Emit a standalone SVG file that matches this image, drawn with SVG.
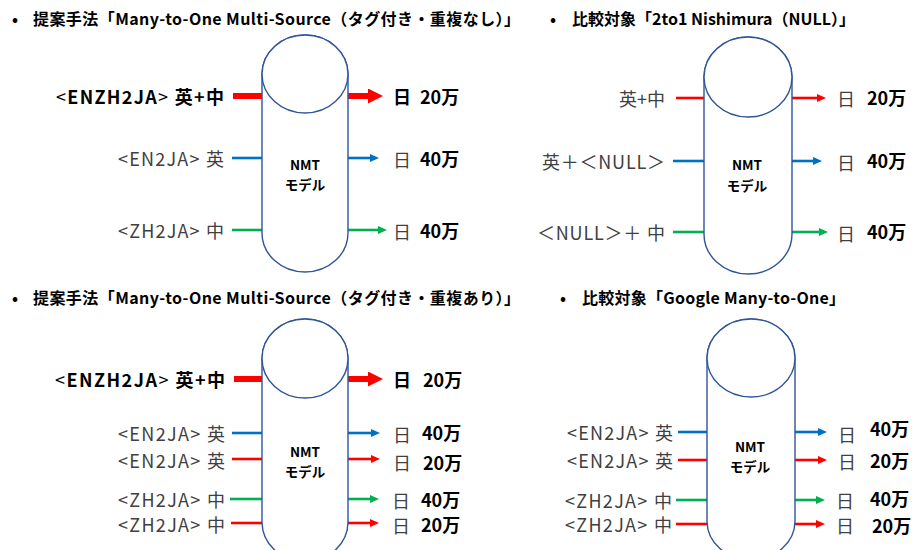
<svg xmlns="http://www.w3.org/2000/svg" width="912" height="550" viewBox="0 0 912 550">
<style>
text{font-family:"Noto Sans CJK JP","Noto Sans",sans-serif;dominant-baseline:central}
.t{font-size:16px;font-weight:bold;fill:#000}
.l{font-size:18px;fill:#404040;text-anchor:end}
.lb{font-size:18px;font-weight:bold;fill:#000;text-anchor:end}
.o{font-size:18px;fill:#404040}
.ob{font-size:18px;font-weight:bold;fill:#000}
.m{font-size:13.5px;font-weight:bold;fill:#000;text-anchor:middle}
.cyl{fill:#fff;stroke:#2F5597;stroke-width:1.4}
.r{stroke:#FF0000;stroke-width:2.6;fill:none}
.b{stroke:#0070C0;stroke-width:2.6;fill:none}
.g{stroke:#00B050;stroke-width:2.6;fill:none}
.R{stroke:#FF0000;stroke-width:6;fill:none}
</style>
<defs>
<marker id="ar" markerUnits="userSpaceOnUse" markerWidth="10" markerHeight="9" refX="1" refY="4" orient="auto"><path d="M0,0 L9,4 L0,8 Z" fill="#FF0000"/></marker>
<marker id="ab" markerUnits="userSpaceOnUse" markerWidth="10" markerHeight="9" refX="1" refY="4" orient="auto"><path d="M0,0 L9,4 L0,8 Z" fill="#0070C0"/></marker>
<marker id="ag" markerUnits="userSpaceOnUse" markerWidth="10" markerHeight="9" refX="1" refY="4" orient="auto"><path d="M0,0 L9,4 L0,8 Z" fill="#00B050"/></marker>
<marker id="aR" markerUnits="userSpaceOnUse" markerWidth="16" markerHeight="16" refX="1" refY="7.5" orient="auto"><path d="M0,0 L15,7.5 L0,15 Z" fill="#FF0000"/></marker>
</defs>

<g id="titles">
<text class="t" x="12" y="18">•</text>
<text class="t" x="33" y="18" textLength="487">提案手法「Many-to-One Multi-Source（タグ付き・重複なし）」</text>
<text class="t" x="550" y="18">•</text>
<text class="t" x="572" y="18" textLength="283">比較対象「2to1 Nishimura（NULL）」</text>
<text class="t" x="12" y="297">•</text>
<text class="t" x="33" y="297" textLength="487">提案手法「Many-to-One Multi-Source（タグ付き・重複あり）」</text>
<text class="t" x="560" y="297">•</text>
<text class="t" x="582" y="297" textLength="263">比較対象「Google Many-to-One」</text>
</g>

<g id="connectors">
<line class="R" x1="233" y1="96" x2="262" y2="96"/>
<line class="R" x1="348" y1="96" x2="369" y2="96" marker-end="url(#aR)"/>
<line class="b" x1="232" y1="158" x2="262" y2="158"/>
<line class="b" x1="348" y1="158" x2="371" y2="158" marker-end="url(#ab)"/>
<line class="g" x1="232" y1="230" x2="262" y2="230"/>
<line class="g" x1="348" y1="230" x2="379" y2="230" marker-end="url(#ag)"/>
<line class="r" x1="676" y1="98" x2="704" y2="98"/>
<line class="r" x1="792" y1="98" x2="818" y2="98" marker-end="url(#ar)"/>
<line class="b" x1="673" y1="161" x2="704" y2="161"/>
<line class="b" x1="792" y1="161" x2="814" y2="161" marker-end="url(#ab)"/>
<line class="g" x1="673" y1="232" x2="704" y2="232"/>
<line class="g" x1="792" y1="232" x2="820" y2="232" marker-end="url(#ag)"/>
<line class="R" x1="234" y1="379" x2="262" y2="379"/>
<line class="R" x1="348" y1="379" x2="369" y2="379" marker-end="url(#aR)"/>
<line class="b" x1="232" y1="433" x2="262" y2="433"/>
<line class="b" x1="348" y1="433" x2="372" y2="433" marker-end="url(#ab)"/>
<line class="r" x1="232" y1="459" x2="262" y2="459"/>
<line class="r" x1="348" y1="459" x2="372" y2="459" marker-end="url(#ar)"/>
<line class="g" x1="230" y1="499" x2="262" y2="499"/>
<line class="g" x1="348" y1="499" x2="371" y2="499" marker-end="url(#ag)"/>
<line class="r" x1="231" y1="523" x2="262" y2="523"/>
<line class="r" x1="348" y1="523" x2="371" y2="523" marker-end="url(#ar)"/>
<line class="b" x1="678" y1="432" x2="707" y2="432"/>
<line class="b" x1="795" y1="432" x2="819" y2="432" marker-end="url(#ab)"/>
<line class="r" x1="678" y1="460" x2="707" y2="460"/>
<line class="r" x1="795" y1="460" x2="819" y2="460" marker-end="url(#ar)"/>
<line class="g" x1="676" y1="500" x2="707" y2="500"/>
<line class="g" x1="795" y1="500" x2="817" y2="500" marker-end="url(#ag)"/>
<line class="r" x1="676" y1="524" x2="707" y2="524"/>
<line class="r" x1="795" y1="524" x2="817" y2="524" marker-end="url(#ar)"/>
</g>

<g id="nmtA">
<path class="cyl" d="M262,74 V233 A43,39 0 0 0 348,233 V74 A43,39 0 0 0 262,74 Z"/>
<ellipse class="cyl" cx="305" cy="74" rx="43" ry="39"/>
<text class="m" x="305" y="164">NMT</text>
<text class="m" x="305" y="184">モデル</text>
</g>
<g id="nmtB">
<path class="cyl" d="M704,77 V234 A44,40 0 0 0 792,234 V77 A44,40 0 0 0 704,77 Z"/>
<ellipse class="cyl" cx="748" cy="77" rx="44" ry="40"/>
<text class="m" x="747" y="164">NMT</text>
<text class="m" x="747" y="185">モデル</text>
</g>
<g id="nmtC">
<path class="cyl" d="M262,358.5 V522 A43,39.5 0 0 0 348,522 V358.5 A43,39.5 0 0 0 262,358.5 Z"/>
<ellipse class="cyl" cx="305" cy="358.5" rx="43" ry="39.5"/>
<text class="m" x="305" y="451">NMT</text>
<text class="m" x="305" y="471">モデル</text>
</g>
<g id="nmtD">
<path class="cyl" d="M707,358 V521 A44,39 0 0 0 795,521 V358 A44,39 0 0 0 707,358 Z"/>
<ellipse class="cyl" cx="751" cy="358" rx="44" ry="39"/>
<text class="m" x="750" y="446">NMT</text>
<text class="m" x="750" y="466">モデル</text>
</g>

<g id="inA1"><text class="lb" x="224" y="96" textLength="168"><tspan font-weight="normal">&lt;</tspan>ENZH2JA<tspan font-weight="normal">&gt;</tspan> 英+中</text></g>
<g id="inA2"><text class="l" x="224" y="158" textLength="106">&lt;EN2JA&gt; 英</text></g>
<g id="inA3"><text class="l" x="224" y="230" textLength="106">&lt;ZH2JA&gt; 中</text></g>
<g id="outA1"><text class="ob" x="393" y="96">日</text><text class="ob" x="420" y="96">20万</text></g>
<g id="outA2"><text class="o" x="393" y="159">日</text><text class="ob" x="420" y="158">40万</text></g>
<g id="outA3"><text class="o" x="393" y="231">日</text><text class="ob" x="420" y="230">40万</text></g>

<g id="inB1"><text class="l" x="665" y="98">英+中</text></g>
<g id="inB2"><text class="l" x="665" y="161" textLength="123">英＋＜NULL＞</text></g>
<g id="inB3"><text class="l" x="665" y="232" textLength="128">＜NULL＞＋ 中</text></g>
<g id="outB1"><text class="o" x="837" y="98">日</text><text class="ob" x="867" y="97">20万</text></g>
<g id="outB2"><text class="o" x="837" y="162">日</text><text class="ob" x="867" y="160">40万</text></g>
<g id="outB3"><text class="o" x="837" y="233">日</text><text class="ob" x="867" y="231">40万</text></g>

<g id="inC1"><text class="lb" x="225" y="379" textLength="170"><tspan font-weight="normal">&lt;</tspan>ENZH2JA<tspan font-weight="normal">&gt;</tspan> 英+中</text></g>
<g id="inC2"><text class="l" x="225" y="433" textLength="107">&lt;EN2JA&gt; 英</text></g>
<g id="inC3"><text class="l" x="225" y="460" textLength="107">&lt;EN2JA&gt; 英</text></g>
<g id="inC4"><text class="l" x="225" y="499" textLength="107">&lt;ZH2JA&gt; 中</text></g>
<g id="inC5"><text class="l" x="225" y="524" textLength="107">&lt;ZH2JA&gt; 中</text></g>
<g id="outC1"><text class="ob" x="393" y="379">日</text><text class="ob" x="423" y="379">20万</text></g>
<g id="outC2"><text class="o" x="393" y="434">日</text><text class="ob" x="422" y="432">40万</text></g>
<g id="outC3"><text class="o" x="393" y="462">日</text><text class="ob" x="423" y="462">20万</text></g>
<g id="outC4"><text class="o" x="392" y="500">日</text><text class="ob" x="421" y="499">40万</text></g>
<g id="outC5"><text class="o" x="392" y="525">日</text><text class="ob" x="421" y="524">20万</text></g>

<g id="inD1"><text class="l" x="673" y="432" textLength="106">&lt;EN2JA&gt; 英</text></g>
<g id="inD2"><text class="l" x="673" y="460" textLength="106">&lt;EN2JA&gt; 英</text></g>
<g id="inD3"><text class="l" x="672" y="500" textLength="107">&lt;ZH2JA&gt; 中</text></g>
<g id="inD4"><text class="l" x="672" y="524" textLength="107">&lt;ZH2JA&gt; 中</text></g>
<g id="outD1"><text class="o" x="838" y="434">日</text><text class="ob" x="870" y="428">40万</text></g>
<g id="outD2"><text class="o" x="838" y="461">日</text><text class="ob" x="870" y="460">20万</text></g>
<g id="outD3"><text class="o" x="836" y="500">日</text><text class="ob" x="870" y="498">40万</text></g>
<g id="outD4"><text class="o" x="836" y="525">日</text><text class="ob" x="872" y="525">20万</text></g>
</svg>
